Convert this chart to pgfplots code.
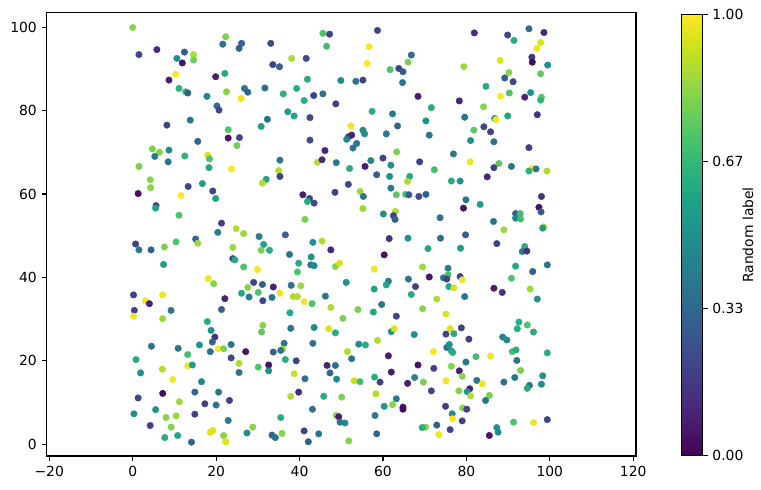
\documentclass[border=0pt]{standalone}
\usepackage{fontspec}
\setmainfont{DejaVu Sans}
\usepackage{pgfplots}
\pgfplotsset{compat=1.18}
\usepackage{pgfplotstable}
\pgfplotstableread{
x y c
0.0 99.9 0.82
22.3 97.7 0.80
21.6 95.9 0.38
26.1 96.1 0.30
25.5 94.9 0.30
1.5 93.4 0.22
5.8 94.6 0.12
12.4 94.0 0.28
14.6 93.4 0.88
10.6 92.5 0.50
11.9 91.4 0.05
14.6 92.1 0.78
10.3 88.7 1.00
8.7 87.3 0.08
19.9 88.1 0.08
22.1 88.9 0.60
11.1 85.3 0.65
12.7 84.5 0.70
13.2 84.2 0.30
17.8 83.4 0.45
22.5 84.5 0.82
26.8 85.3 0.38
27.6 84.4 0.33
26.0 82.9 0.98
31.7 85.4 0.35
20.2 81.1 0.35
20.7 80.1 0.22
13.8 77.7 0.40
8.2 76.5 0.20
22.9 75.4 0.72
30.8 76.2 0.58
22.9 73.4 0.05
25.6 73.5 0.22
25.0 71.6 0.78
15.6 72.6 0.32
4.7 70.8 0.80
6.4 70.0 0.82
8.7 70.5 0.50
5.3 69.0 0.40
12.5 69.1 0.65
18.0 69.3 0.95
18.4 68.4 0.72
8.5 67.7 0.38
45.6 98.5 0.72
47.2 98.3 0.20
58.7 99.2 0.20
33.1 96.1 0.22
46.5 95.4 0.70
56.7 95.3 1.00
38.1 92.5 0.88
41.6 92.5 0.22
66.0 91.6 0.80
33.6 91.0 0.20
35.2 90.5 0.30
56.2 91.3 1.00
61.7 89.8 0.72
63.8 90.1 0.22
64.8 89.3 0.28
41.9 87.5 0.62
49.9 87.2 0.48
53.5 87.0 0.38
55.2 87.3 0.20
64.7 86.7 0.38
36.1 84.0 0.65
39.3 85.3 0.62
41.1 82.4 0.62
43.4 83.6 0.20
45.6 84.0 0.38
48.7 81.6 0.20
37.2 79.7 0.55
38.7 78.7 0.58
42.5 78.3 0.22
32.3 77.9 0.36
57.4 79.8 0.62
62.3 79.2 0.40
63.5 76.3 0.32
52.3 76.3 0.98
55.2 75.3 0.48
55.6 74.4 0.50
51.7 73.7 0.20
52.5 74.1 0.10
51.3 73.1 0.45
60.8 74.4 0.40
42.5 72.9 0.22
53.7 72.1 0.40
52.8 71.0 0.38
46.1 70.4 0.10
63.3 70.1 0.80
35.3 68.1 0.38
44.3 67.6 0.88
45.4 68.2 0.12
48.8 67.5 0.40
57.1 68.0 0.45
60.0 68.6 0.20
81.9 98.6 0.12
89.9 98.1 0.22
91.4 96.8 0.62
95.0 99.6 0.35
98.6 98.7 0.12
97.8 96.3 0.95
96.9 94.9 0.98
66.8 93.3 0.36
79.4 90.5 0.85
88.1 92.0 0.95
95.7 92.8 0.15
95.8 91.6 0.03
99.5 90.9 0.50
90.2 89.1 0.82
97.8 88.8 0.75
89.2 87.8 0.30
91.2 86.9 0.22
84.7 85.8 0.62
68.4 83.4 0.08
78.3 82.3 0.10
88.2 83.4 1.00
90.3 84.2 0.72
94.0 83.2 0.10
95.4 84.3 0.50
98.0 83.2 0.75
97.8 82.5 0.65
71.6 80.7 0.62
84.1 80.9 0.82
70.3 77.5 0.50
79.6 78.4 0.38
86.8 78.1 0.48
87.1 77.8 0.98
89.9 78.7 0.60
97.0 79.0 0.15
71.1 74.1 0.38
81.8 75.3 0.75
84.2 76.1 0.20
85.8 74.9 0.20
81.0 72.8 0.50
86.6 72.5 0.38
95.0 71.1 0.18
76.9 69.6 0.40
68.8 67.7 0.20
80.9 67.7 0.98
87.8 67.3 0.75
1.5 66.6 0.80
18.3 66.3 0.60
23.7 66.0 1.00
4.2 63.4 0.82
4.3 61.5 0.82
1.3 60.1 0.03
13.3 61.8 0.20
16.7 62.5 0.55
11.6 59.6 1.00
19.2 60.7 0.20
19.9 58.9 0.58
32.0 63.5 0.58
31.1 62.6 0.88
5.6 57.2 0.20
5.5 56.6 0.58
11.1 54.9 0.72
21.3 53.0 0.18
24.8 51.7 0.88
26.6 50.5 0.85
20.4 50.8 0.42
30.3 49.8 0.42
31.4 47.9 0.58
30.8 46.5 0.80
0.7 48.0 0.20
1.5 46.6 0.40
4.4 46.6 0.30
7.6 47.3 0.80
10.4 48.5 0.72
15.1 49.2 0.30
15.6 48.2 0.85
24.0 47.2 0.85
24.0 44.5 0.20
24.5 44.2 0.60
7.4 43.1 0.55
26.6 42.5 0.72
29.9 41.9 1.00
18.1 39.7 0.98
19.4 38.5 0.82
29.0 38.8 0.20
27.6 37.6 0.82
31.1 38.3 0.30
26.1 36.2 0.60
27.9 35.3 0.40
30.1 36.4 0.72
31.2 34.4 0.22
0.2 35.8 0.20
3.1 34.4 0.98
4.0 33.7 0.10
7.2 35.8 0.98
22.1 34.9 0.10
35.0 65.6 0.88
35.3 64.2 0.20
52.0 66.1 0.62
55.7 66.6 0.08
61.9 66.9 0.50
58.5 64.6 0.30
61.6 64.2 0.50
66.4 64.2 0.60
65.9 63.0 0.88
51.7 62.3 0.22
61.9 61.4 0.40
63.2 59.8 0.75
65.4 59.9 0.72
48.5 60.4 0.20
54.5 60.6 0.85
55.3 59.4 0.38
40.8 59.8 0.10
42.4 58.9 0.20
43.5 57.8 0.22
41.9 58.2 0.60
55.2 56.5 0.85
60.1 55.2 0.50
63.0 55.8 0.88
62.5 54.8 0.20
62.9 53.9 0.30
41.3 53.9 0.80
36.6 50.2 0.30
32.8 46.5 0.62
43.2 48.4 0.50
45.4 48.7 0.88
47.5 46.6 0.12
61.5 49.3 0.15
66.0 49.4 0.50
37.6 45.5 0.38
42.8 44.9 0.52
60.3 45.4 0.05
39.8 43.4 0.62
42.7 43.0 0.40
43.5 42.8 0.48
48.6 42.6 0.82
49.6 43.4 0.95
39.5 41.3 0.72
57.9 42.0 0.98
51.2 38.8 0.50
61.3 39.1 0.40
60.8 38.2 0.58
57.9 37.2 0.58
66.1 39.6 0.40
33.7 37.7 0.10
35.3 36.2 0.98
38.0 38.1 0.38
40.3 38.0 0.85
33.4 35.2 0.38
38.5 35.4 0.88
39.5 35.4 0.88
41.1 34.2 0.98
46.2 35.5 0.40
43.0 33.7 0.72
59.7 33.5 0.40
72.3 65.8 0.70
86.6 66.3 0.20
90.8 66.6 0.38
95.8 66.2 1.00
95.0 65.5 0.65
96.7 66.0 0.38
99.3 65.5 0.88
85.0 64.1 0.10
76.4 63.1 0.62
78.5 63.1 0.50
66.2 59.8 0.30
68.6 59.4 0.22
70.3 59.9 0.30
79.9 58.6 0.38
79.3 56.6 0.05
83.3 57.5 0.55
98.0 59.4 0.15
97.4 56.8 0.05
97.9 55.7 0.28
91.8 55.3 0.30
92.9 55.3 0.70
91.8 54.2 0.45
93.0 54.0 0.70
73.7 54.3 0.38
86.5 53.4 0.38
89.0 51.4 0.85
98.5 52.1 0.88
98.3 51.8 0.55
73.8 49.4 0.35
79.8 50.2 0.30
87.3 48.1 0.20
70.8 46.9 0.60
78.6 47.0 0.55
94.0 47.4 0.62
93.4 46.2 0.42
94.5 46.3 0.15
69.5 42.5 0.85
75.6 42.2 0.42
71.1 40.1 0.05
74.5 39.9 0.40
75.6 40.6 0.70
75.3 39.6 0.20
78.5 40.2 0.20
79.0 39.4 0.98
67.8 37.8 0.20
75.8 37.8 0.60
77.0 37.5 0.95
91.8 42.7 0.60
95.9 41.4 0.30
99.4 43.0 0.38
90.8 39.8 0.72
86.6 37.4 0.08
88.6 36.4 0.15
95.3 37.2 0.85
66.8 35.9 0.62
72.9 34.8 0.88
79.6 35.4 0.38
97.0 34.8 0.50
0.4 32.1 0.20
0.2 30.7 0.98
9.2 32.1 0.38
7.2 30.1 0.85
21.3 32.3 0.30
17.9 29.4 0.62
18.8 27.3 0.50
19.7 25.7 0.15
19.1 24.5 0.30
31.2 28.5 0.82
30.9 26.9 0.75
4.5 23.5 0.38
10.9 23.0 0.38
16.0 23.8 0.52
13.2 21.5 0.70
18.6 22.2 0.38
20.5 22.9 1.00
21.8 22.9 0.80
23.6 23.9 0.38
27.1 22.2 0.05
23.6 20.7 0.20
0.8 20.3 0.62
1.9 17.1 0.50
7.1 18.0 0.88
13.2 18.8 0.98
14.3 19.0 0.55
9.6 15.5 0.98
25.5 19.4 0.88
25.5 17.2 0.38
30.1 18.5 0.72
16.5 15.0 0.45
1.3 11.1 0.20
7.2 12.2 0.03
11.2 10.2 0.85
14.9 12.5 0.32
20.6 12.5 0.38
17.3 9.7 0.18
20.0 9.4 0.38
23.2 10.5 0.20
0.3 7.3 0.50
5.5 8.3 0.50
8.0 6.4 0.82
10.4 6.8 0.85
14.9 7.2 0.20
22.9 5.7 0.40
4.2 4.5 0.20
9.2 4.1 0.82
7.7 1.6 0.62
10.8 2.1 0.60
14.1 0.5 0.30
18.6 2.9 0.95
19.2 3.3 0.95
21.8 2.1 0.82
22.3 0.6 0.95
27.4 2.7 0.48
28.8 4.1 0.82
37.7 31.5 0.60
47.5 32.8 0.88
54.0 32.3 0.80
57.7 31.7 0.60
63.2 30.7 0.20
50.4 30.2 0.80
37.9 27.8 0.38
43.5 28.0 0.48
47.0 27.7 0.95
48.6 26.7 0.62
62.0 27.0 0.50
62.7 27.7 0.95
58.7 24.9 0.88
36.3 24.2 0.38
43.2 24.2 0.38
54.2 24.0 0.48
55.8 23.8 0.62
36.0 22.8 0.88
33.7 22.1 0.30
35.5 22.5 0.38
36.6 20.3 0.62
39.2 20.0 0.20
51.5 22.2 0.88
52.5 20.5 0.38
61.3 21.2 0.08
32.6 19.0 0.05
32.6 17.6 0.50
38.7 16.9 0.92
41.3 15.7 0.38
46.6 18.9 0.10
48.6 18.9 0.38
47.3 17.1 0.33
48.9 15.6 0.48
53.1 15.2 0.92
54.5 15.0 0.70
58.0 16.1 0.62
59.3 14.9 0.20
62.0 17.3 0.08
65.9 14.6 0.08
37.9 11.5 0.88
39.8 12.5 0.12
45.8 11.5 0.62
50.1 11.3 0.80
58.3 12.1 0.88
63.2 10.9 0.40
60.3 9.1 0.52
62.3 9.5 0.82
64.8 8.9 0.05
64.8 8.4 0.03
43.1 8.4 0.38
35.5 6.4 0.62
48.8 6.9 0.82
49.4 6.6 0.08
49.7 5.3 0.38
50.9 5.1 0.48
58.1 6.9 0.42
33.4 2.2 0.30
34.2 1.6 0.38
35.8 2.6 0.82
41.1 3.2 0.20
44.6 2.5 0.38
42.1 0.6 0.30
58.5 2.5 0.33
51.8 0.8 0.82
69.5 32.5 0.82
75.1 31.2 0.95
92.6 29.3 0.62
94.6 28.6 0.72
92.2 27.7 0.62
96.1 26.9 0.62
67.5 26.3 0.50
76.1 27.7 0.95
75.1 26.4 0.20
77.0 26.5 0.62
78.8 27.9 0.20
80.6 25.2 0.18
88.7 25.7 0.45
89.7 25.0 0.48
75.3 23.2 0.38
75.9 23.9 0.50
76.4 22.4 0.58
76.7 22.0 0.62
72.1 22.2 1.00
82.3 21.0 0.70
85.8 21.1 0.98
91.0 22.2 0.70
91.9 22.6 0.62
99.4 21.9 0.62
92.1 20.1 0.38
79.9 19.7 0.40
68.4 19.0 0.05
72.2 18.2 0.20
76.4 18.7 0.82
78.3 17.6 0.08
79.0 16.3 0.82
93.0 17.7 0.80
67.6 16.0 0.45
69.7 14.9 0.80
75.1 15.2 0.98
82.5 15.3 0.38
83.8 14.5 0.98
89.0 14.9 0.35
91.6 16.0 0.40
98.3 16.4 0.50
95.1 14.1 0.38
94.6 13.4 0.62
98.0 14.4 0.48
71.6 12.8 0.22
78.2 12.8 0.82
80.8 13.3 0.08
80.2 12.6 0.50
81.0 11.6 0.88
85.5 11.7 0.80
84.6 10.5 0.38
75.0 9.1 0.20
79.1 8.7 0.82
80.1 8.4 0.20
76.6 7.3 0.50
76.7 6.1 0.98
79.0 5.6 0.20
72.9 4.6 0.30
76.1 3.5 0.20
70.2 4.1 0.82
69.4 4.0 0.62
73.4 2.3 0.98
85.5 2.1 0.05
87.3 4.0 0.50
87.6 2.9 0.50
91.3 5.3 0.72
96.1 5.2 0.98
99.4 5.9 0.20
}\datatable
\begin{document}
\begin{tikzpicture}
\begin{axis}[
  name=main,
  at={(0,0)}, anchor=south west,
  scale only axis,
  width=424.4pt, height=319.3pt,
  xmin=-20.64, xmax=120.67,
  ymin=-2.8, ymax=103.5,
  xtick={-20,0,20,40,60,80,100,120},
  xticklabels={−20,0,20,40,60,80,100,120},
  ytick={0,20,40,60,80,100},
  yticklabels={0,20,40,60,80,100},
  tick align=outside,
  tick pos=left,
  major tick length=3.5pt,
  axis line style={line width=0.8pt},
  every tick/.style={black, line width=0.8pt},
  ticklabel style={font=\fontsize{10}{12}\selectfont},
  colormap/viridis,
  point meta min=0, point meta max=1,
  colorbar,
  colorbar style={
    at={(parent axis.north east)}, anchor=north west,
    xshift=24.5pt, yshift=-1.2pt,
    scale only axis,
    width=15pt, height=318pt,
    ytick={0,0.3333,0.6667,1},
    yticklabels={0.00,0.33,0.67,1.00},
    ytick pos=right,
    yticklabel pos=right,
    ylabel={Random label},
    ylabel style={font=\fontsize{10}{12}\selectfont, yshift=7.5pt},
    tick align=outside,
    major tick length=3.5pt,
    axis line style={line width=0.8pt},
    every tick/.style={black, line width=0.8pt},
    yticklabel style={font=\fontsize{10}{12}\selectfont},
  },
]
\addplot[
  scatter, only marks, mark=*, mark size=2.35pt,
  scatter src=explicit,
  mark options={line width=0.3pt},
  scatter/use mapped color={draw=mapped color, fill=mapped color},
] table[x=x, y=y, meta=c] {\datatable};
\end{axis}
\path (-33.55pt,-24.5pt) rectangle (514.4pt,328.3pt);
\end{tikzpicture}
\end{document}
